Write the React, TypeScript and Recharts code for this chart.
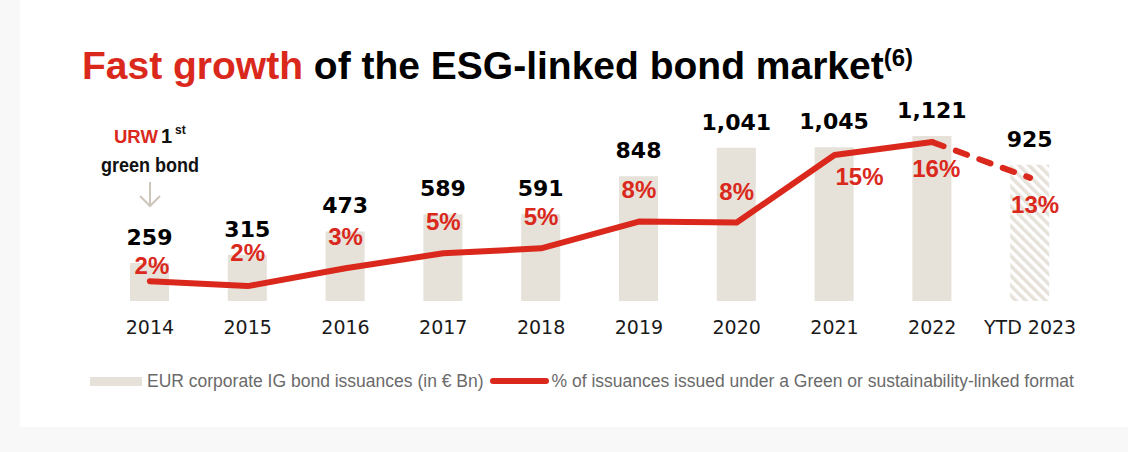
import React from 'react';
import { ComposedChart, Bar, Line, XAxis, YAxis, Cell, LabelList } from 'recharts';

const years = ['2014', '2015', '2016', '2017', '2018', '2019', '2020', '2021', '2022', 'YTD 2023'];
const issuance = [259, 315, 473, 589, 591, 848, 1041, 1045, 1121, 925];
const greenShare = [2.0, 1.5, 3.3, 4.8, 5.3, 8.0, 7.9, 14.7, 16.0, 12.4];
const shareLabels = ['2%', '2%', '3%', '5%', '5%', '8%', '8%', '15%', '16%', '13%'];

// last point is year-to-date, drawn hatched / dashed
const ytdIndex = years.length - 1;

const RED = '#da291c';
const BEIGE = '#e6e1d9';

// where each % label sits relative to its point: [dx, baseline dy]
const labelNudge: [number, number][] = [
  [2, -7], [0, -25], [0, -23], [0, -23], [0, -23],
  [0, -24], [0, -23], [25, 30], [4, 35], [5, 35],
];

const data = years.map((year, i) => ({
  year,
  issuance: issuance[i],
  share: greenShare[i],
  shareLabel: shareLabels[i],
  solid: i < ytdIndex ? greenShare[i] : null,
  dashed: i >= ytdIndex - 1 ? greenShare[i] : null,
}));

function YearTick({ x, y, payload }: any) {
  return (
    <text
      x={x}
      y={y + 33}
      textAnchor="middle"
      fontFamily="DejaVu Sans"
      fontSize={19}
      fill="#1a1a1a"
    >
      {payload.value}
    </text>
  );
}

function IssuanceLabel({ x, y, width, value }: any) {
  return (
    <text
      x={x + width / 2}
      y={y - 18}
      textAnchor="middle"
      fontFamily="DejaVu Sans"
      fontWeight={700}
      fontSize={22}
      fill="#000"
    >
      {Number(value).toLocaleString('en-US')}
    </text>
  );
}

function ShareLabel({ x, y, index, value }: any) {
  const [dx, dy] = labelNudge[index] || [0, -23];
  return (
    <text
      x={x + dx}
      y={y + dy}
      textAnchor="middle"
      fontFamily="Liberation Sans, Arial, sans-serif"
      fontWeight={700}
      fontSize={24}
      fill={RED}
    >
      {value}
    </text>
  );
}

export default function App() {
  return (
    <div
      style={{
        position: 'absolute',
        left: 0,
        top: 0,
        width: 1128,
        height: 452,
        background: '#f8f8f8',
        overflow: 'hidden',
      }}
    >
      <div style={{ position: 'absolute', left: 20, top: 0, width: 1108, height: 427, background: '#fff' }} />

      <div style={{ position: 'absolute', left: 0, top: 0 }}>
        <ComposedChart
          width={1128}
          height={452}
          data={data}
          margin={{ top: 124.4, right: 49, bottom: 121, left: 101 }}
        >
          <defs>
            <pattern
              id="ytdHatch"
              width={7}
              height={7}
              patternUnits="userSpaceOnUse"
              patternTransform="rotate(-45)"
            >
              <rect x={0} y={0} width={3.5} height={7} fill={BEIGE} />
            </pattern>
          </defs>
          <XAxis
            dataKey="year"
            axisLine={false}
            tickLine={false}
            tickSize={0}
            tickMargin={0}
            height={30}
            interval={0}
            tick={<YearTick />}
          />
          <YAxis yAxisId="bn" hide domain={[0, 1200]} />
          <YAxis yAxisId="pct" hide orientation="right" domain={[0, 17.78]} />

          <Bar yAxisId="bn" dataKey="issuance" barSize={39} fill={BEIGE} isAnimationActive={false}>
            {data.map((d, i) => (
              <Cell key={d.year} fill={i === ytdIndex ? 'url(#ytdHatch)' : BEIGE} />
            ))}
            <LabelList dataKey="issuance" content={<IssuanceLabel />} />
          </Bar>

          <Line
            yAxisId="pct"
            dataKey="dashed"
            stroke={RED}
            strokeWidth={6}
            strokeDasharray="12 13"
            strokeLinecap="round"
            dot={false}
            activeDot={false}
            connectNulls={false}
            isAnimationActive={false}
          />
          <Line
            yAxisId="pct"
            dataKey="solid"
            stroke={RED}
            strokeWidth={6}
            strokeLinejoin="round"
            strokeLinecap="round"
            dot={false}
            activeDot={false}
            connectNulls={false}
            isAnimationActive={false}
          />
          {/* carries the % labels only */}
          <Line
            yAxisId="pct"
            dataKey="share"
            stroke="none"
            dot={false}
            activeDot={false}
            isAnimationActive={false}
          >
            <LabelList dataKey="shareLabel" content={<ShareLabel />} />
          </Line>
        </ComposedChart>
      </div>

      {/* title + annotation */}
      <svg
        width={1128}
        height={452}
        style={{ position: 'absolute', left: 0, top: 0, pointerEvents: 'none' }}
      >
        <text x={82} y={79} fontFamily="Liberation Sans, Arial, sans-serif" fontWeight={700} fontSize={39}>
          <tspan fill={RED}>Fast growth</tspan>
          <tspan fill="#000"> of the ESG-linked bond market</tspan>
          <tspan fill="#000" fontSize={24} dy={-13}>(6)</tspan>
        </text>

        <g fontFamily="Liberation Sans, Arial, sans-serif" fontWeight={700}>
          <text x={114} y={143} fontSize={18.5} fill={RED}>
            URW
          </text>
          <text x={161} y={143} fontSize={20} fill="#111">
            1
          </text>
          <text x={175} y={134} fontSize={12} fill="#111">
            st
          </text>
          <text x={101} y={172} fontSize={21} textLength={98} lengthAdjust="spacingAndGlyphs" fill="#111">
            green bond
          </text>
        </g>
        <g stroke="#cdc6bb" strokeWidth={2} fill="none">
          <line x1={150} y1={182} x2={150} y2={206} />
          <polyline points="140,196 150,206 160,196" />
        </g>
      </svg>

      {/* legend */}
      <div
        style={{
          position: 'absolute',
          left: 90,
          top: 370,
          display: 'flex',
          alignItems: 'center',
          fontFamily: 'Liberation Sans, Arial, sans-serif',
          fontSize: 17.5,
          color: '#6a6a6a',
          whiteSpace: 'nowrap',
          height: 22,
        }}
      >
        <div style={{ width: 52, height: 9, background: BEIGE, marginRight: 5 }} />
        <span>EUR corporate IG bond issuances (in € Bn)</span>
        <div style={{ width: 59, height: 6, borderRadius: 3, background: RED, marginLeft: 6, marginRight: 3 }} />
        <span>% of issuances issued under a Green or sustainability-linked format</span>
      </div>
    </div>
  );
}
